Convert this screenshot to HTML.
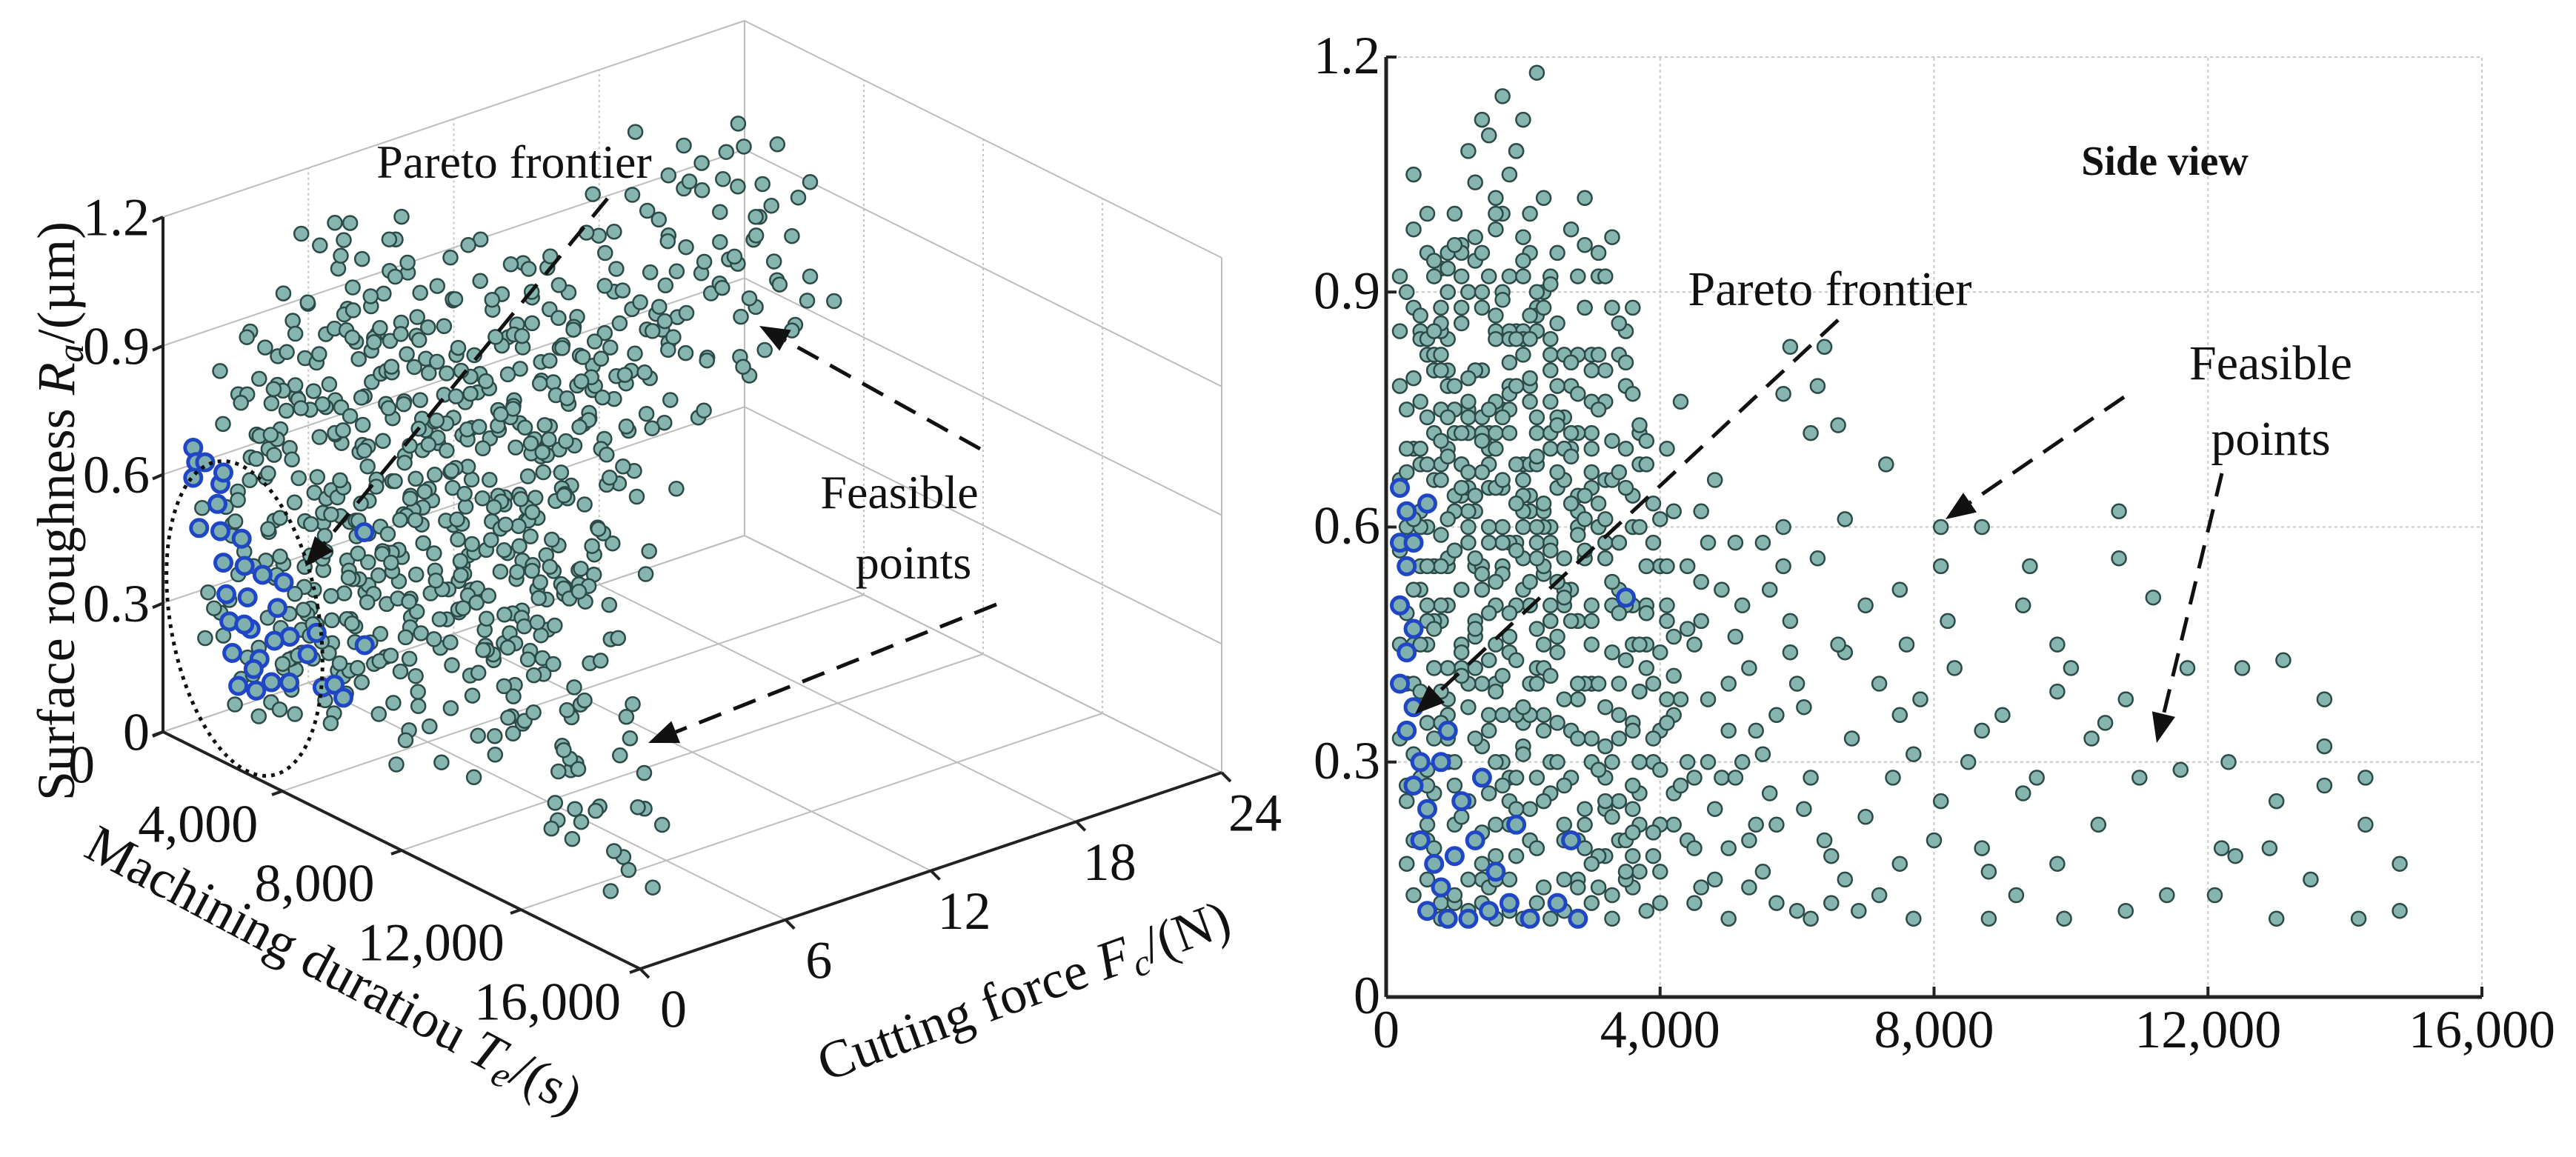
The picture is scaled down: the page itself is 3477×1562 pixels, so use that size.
<!DOCTYPE html>
<html><head><meta charset="utf-8"><title>Pareto frontier</title>
<style>html,body{margin:0;padding:0;background:#fff}svg{display:block}text{font-family:"Liberation Serif",serif;fill:#111}</style>
</head><body>
<svg id="fig" width="3477" height="1562" viewBox="0 0 3477 1562" xmlns="http://www.w3.org/2000/svg">
<g id="grid3d"></g>
<g id="axes3d"></g>
<g id="pts3d"></g>
<g id="grid2d"></g>
<g id="pts2d"></g>
<g id="anno"></g>
</svg>
<script>
// Units: duration Te in hundreds of seconds, cutting force Fc in N, roughness Ra in hundredths of µm
const zTicks = [0, 0.3, 0.6, 0.9, 1.2];
const zTickLabels = ["0", "0.3", "0.6", "0.9", "1.2"];
const teTicks = [0, 4000, 8000, 12000, 16000];
const teTickLabels = ["0", "4,000", "8,000", "12,000", "16,000"];
const fcTicks = [0, 6, 12, 18, 24];
const fcTickLabels = ["0", "6", "12", "18", "24"];

const lowForcePoints = [[4,2,20],[6,3,35],[8,2,48],[10,4,62],[12,3,75],[14,5,88],[16,4,98],[18,6,105],[20,5,112],[22,3,118],
[5,6,28],[7,5,42],[9,7,55],[11,6,68],[13,7,80],[15,6,92],[17,8,100],[19,7,108],[21,6,95],[23,5,102],
[3,4,40],[5,1,52],[7,3,66],[9,2,78],[11,1,86],[13,2,94],[15,3,70],[17,1,60],[19,2,50],[21,4,40],
[24,3,30],[26,2,22],[28,4,15],[30,3,12],[32,5,18],[34,2,25],[36,4,35],[38,3,45],[40,5,55],
[25,6,65],[27,5,78],[29,7,88],[31,6,92],[33,8,97],[35,7,85],[37,6,72],[24,8,60],[26,7,50],[28,6,40],
[30,5,33],[32,4,28],[34,7,20],[36,6,14],[38,8,11],[40,7,16],[42,5,22],[44,6,30],
[6,7,15],[8,6,12],[10,8,18],[12,7,25],[14,8,32],[16,7,40],[18,8,46],[20,7,52],[22,8,58],
[4,5,70],[6,4,82],[8,5,93],[10,6,100],[12,5,108],[14,6,112],[16,3,102],[18,2,92],[20,3,82],[22,2,72],
[9,1,30],[11,2,42],[13,1,55],[15,2,65],[17,3,75],[19,4,85],[21,1,64],[23,2,54],[25,3,44],[27,1,34],
[29,2,24],[31,1,14],[33,3,10],[35,1,20],[37,2,30],[39,1,40],[41,3,50],
[3,7,55],[5,8,68],[7,8,80],[9,8,90],[11,8,96],[13,8,104],[15,8,110],[17,5,115],[19,5,108],[21,7,100],
[14,2,15],[16,5,22],[18,3,28],[20,6,35],[22,4,42],[24,5,48],[26,4,56],[28,5,62],[30,7,70],[32,6,76],[34,4,82],[36,5,88],
[23,7,90],[25,4,95],[27,8,98],[29,5,102],[31,4,95],[33,6,88],[35,5,78],[37,8,68],[39,6,58],[41,4,48],[43,7,38],
[8,4,10],[10,2,12],[12,4,11],[16,1,10],[18,5,11],[20,2,10],[22,6,12],[24,1,10],[26,5,11],[28,2,10],
[5,3,60],[7,6,72],[9,4,84],[11,3,64],[13,5,46],[15,4,36],[17,6,30],[19,3,18],[21,5,24],[23,3,36],
[12,6,90],[14,3,80],[16,6,85],[18,4,78],[20,4,68],[22,6,88],[24,2,84],[26,6,74],[28,3,92],[30,2,82]];

const highForcePoints = [[3,16,60],[5,18,70],[7,20,80],[9,22,90],[11,24,95],[4,21,98],[6,23,100],[8,19,88],[10,17,75],[12,15,65],
[14,16,55],[16,18,65],[18,20,75],[20,22,85],[22,24,90],[24,23,80],[26,21,70],[28,19,60],[30,17,50],
[3,24,70],[5,22,62],[7,20,55],[9,18,50],[11,16,45],[13,14,42],[15,22,60],[17,24,55],[19,23,68],[21,21,78],
[4,19,105],[6,17,95],[8,15,85],[10,14,78],[12,13,72],[14,20,95],[16,22,100],[18,24,85],[20,18,92],[22,16,85],
[24,14,76],[26,18,82],[28,22,72],[30,24,65],[32,20,58],[34,16,52],[36,14,45],[2,22,85],[2,18,78],[2,14,66],
[5,15,55],[7,13,48],[9,24,80],[11,22,72],[13,19,62],[15,17,68],[17,15,58],[19,13,50],[21,24,62],[23,22,55],
[6,20,68],[8,22,75],[10,20,62],[12,18,58],[14,22,72],[16,14,50],[18,16,44],[20,20,56],[4,14,52],[6,16,48]];

const midForcePoints = [[3,9,75],[5,10,85],[7,11,92],[9,12,95],[11,13,88],[13,12,80],[15,11,72],[17,10,65],[19,9,58],[21,10,50],
[23,11,42],[25,12,35],[27,13,28],[29,12,22],[31,11,18],[33,10,13],[35,9,15],[37,12,22],[39,13,30],[41,11,38],
[4,13,45],[6,12,38],[8,11,30],[10,10,22],[12,9,15],[14,10,12],[16,11,18],[18,12,25],[20,13,32],[22,12,40],
[24,9,48],[26,10,56],[28,11,64],[30,9,72],[32,10,66],[34,11,58],[36,12,50],[38,10,42],[40,9,34],[42,12,26],
[44,13,20],[46,10,14],[48,9,24],[50,11,34],[6,14,60],[8,13,68],[10,14,72],[12,11,60],[14,13,52],[16,9,45],
[18,14,58],[20,11,66],[22,9,74],[24,13,82],[26,14,70],[28,9,48],[30,13,40],[32,14,32],[34,8,25],[36,13,18],
[5,12,20],[7,9,26],[9,10,38],[11,11,52],[13,10,64],[15,13,70],[17,12,36],[19,11,28],[21,12,20],[23,13,14]];

const coreDensePoints = [[6,1,22],[9,2,36],[13,3,48],[17,1,58],[21,2,68],[25,3,78],[29,1,88],[33,2,30],[37,3,16],[8,3,66],[12,1,74],[16,2,84],[20,3,94],[24,1,26],[28,2,38],[32,3,56],[36,1,64],[40,2,12],
[5,4,30],[9,5,42],[13,4,56],[17,5,66],[21,4,76],[25,5,86],[29,4,96],[33,5,44],[37,4,26],[7,5,80],[11,4,92],[15,5,14],[19,4,24],[23,5,34],[27,4,52],[31,5,60],[35,4,70],[39,5,18],
[6,6,45],[10,7,57],[14,6,67],[18,7,77],[22,6,87],[26,7,20],[30,6,30],[34,7,40],[38,6,50],[8,7,35],[12,6,25],[16,7,15],[20,6,62],[24,7,72],[28,6,82],[32,7,92],[36,6,60],[42,7,46],
[4,8,40],[8,9,50],[12,8,62],[16,9,72],[20,8,84],[24,9,92],[28,8,14],[32,9,24],[36,8,34],[40,9,44],[6,9,20],[10,8,30],[14,9,40],[18,8,22],[22,9,56],[26,8,66],[30,9,76],[34,8,86],
[5,10,60],[9,11,70],[13,10,80],[17,11,90],[21,10,20],[25,11,30],[29,10,40],[33,11,50],[37,10,60],[7,11,42],[11,10,52],[15,11,26],[19,10,36],[23,11,62],[27,10,72],[31,11,82],[35,10,16],[45,11,28],
[6,12,50],[10,13,62],[14,12,74],[18,13,84],[22,12,28],[26,13,38],[30,12,48],[34,13,58],[38,12,68],[8,13,80],[12,12,40],[16,13,30],[20,12,60],[24,13,70],[28,12,20],[32,13,80],[36,12,24],[42,13,36],
[5,14,70],[9,15,56],[13,14,64],[17,15,74],[21,14,36],[25,15,46],[29,14,56],[33,15,66],[37,14,30],[7,15,82],[11,14,44],[15,15,34],[19,14,84],[23,15,60],[27,14,70],[31,15,40],[35,14,50],[40,15,22],
[6,16,74],[10,17,64],[14,16,54],[18,17,44],[22,16,60],[26,17,70],[30,16,80],[34,17,36],[8,17,86],[12,16,90],[16,17,76],[20,16,66],[24,17,50],[28,16,40],[32,17,56],
[5,18,84],[9,19,74],[13,20,64],[17,18,54],[21,19,84],[25,20,74],[29,18,64],[7,20,94],[11,18,68],[15,19,58],[19,20,78],[23,18,88],[27,19,48],[3,19,90],[31,20,60],
[4,21,88],[8,22,82],[12,23,76],[16,21,70],[20,22,64],[24,23,58],[6,24,84],[10,21,96],[14,22,90],[18,23,72],[22,24,68],[26,21,52],[2,23,92],[5,24,76],
[42,3,62],[44,5,55],[46,2,48],[48,6,66],[50,4,40],[52,3,30],[54,7,22],[56,2,52],[58,5,60],[41,8,70],[43,6,76],[47,4,58],[49,2,28],[51,6,46],[53,4,20],[57,3,36],[59,8,44],[61,2,24],[63,5,56],[65,3,18]];

const bodyFillPoints = [[4,3,13],[7,4,19],[10,5,27],[13,6,33],[16,3,39],[19,8,43],[22,5,47],[25,9,53],[28,4,59],[31,10,63],
[34,6,67],[37,11,73],[3,12,17],[6,2,29],[9,13,33],[12,7,37],[15,14,43],[18,9,49],[21,15,53],[24,4,57],
[27,16,63],[30,8,67],[33,17,71],[36,3,77],[39,10,21],[5,18,45],[8,11,55],[11,19,65],[14,5,71],[17,20,41],
[20,7,31],[23,12,25],[26,6,15],[29,13,19],[32,3,37],[35,14,43],[38,7,49],[41,5,55],[4,10,79],[7,14,85],
[10,3,57],[13,16,47],[16,8,53],[19,2,63],[22,18,69],[25,10,73],[28,1,77],[31,12,29],[34,2,33],[37,15,39],
[3,6,49],[6,17,55],[9,6,61],[12,19,67],[15,9,75],[18,1,81],[21,11,87],[24,6,91],[27,13,81],[30,4,17],
[33,16,23],[36,9,27],[39,3,33],[42,10,41],[44,4,47],[46,8,53],[8,16,39],[11,7,23],[14,11,17],[17,4,27],
[20,14,37],[23,2,45],[26,12,51],[29,6,57],[32,11,61],[35,3,65],[38,13,71],[5,7,87],[9,9,93],[13,11,97],
[17,13,89],[21,3,79],[25,15,67],[29,9,61],[33,4,53],[37,12,45],[41,6,35],[43,2,27],[45,9,19],[3,15,27],
[7,1,33],[11,15,41],[15,1,49],[19,12,57],[23,8,63],[27,2,69],[31,14,75],[35,8,81],[39,4,63],[6,5,11],
[10,9,13],[14,4,21],[18,10,15],[22,1,19],[26,9,27],[30,1,45],[34,9,49],[38,2,55],[40,11,61],[4,16,61],
[8,8,71],[12,2,79],[16,10,87],[20,1,97],[24,11,41],[28,7,33],[32,1,25],[36,10,21],[40,3,29],[2,4,33],
[2,6,45],[2,8,57],[3,10,67],[3,2,25],[4,12,31],[5,6,39],[6,10,27],[7,2,47],[8,12,59],[9,6,69]];

const longDurationPoints = [[107,4,62],[107,3,56],[112,5,51],[94,6,55],[93,4,50],[87,7,60],[81,8,60],[81,6,55],[131,3,43],[137,2,38],
[125,4,42],[143,2,28],[143,3,22],[148,1,17],[148,2,11],[142,1,10],[130,3,10],[135,2,15],[129,4,19],[122,3,19],
[116,5,29],[114,2,13],[121,2,13],[108,3,11],[99,4,10],[92,5,13],[88,6,10],[77,7,10],[104,4,22],[98,5,17],
[98,3,45],[98,6,39],[103,4,33],[110,3,28],[123,2,30],[130,1,25],[137,3,32],[87,5,34],[81,7,25],[87,3,19],
[75,8,17],[70,9,23],[73,10,68],[66,11,73],[62,9,72],[64,12,83],[59,10,83],[63,8,78],[58,11,77],[67,7,61],
[75,6,52],[67,9,44],[61,8,37],[55,10,31],[75,5,36],[82,4,48],[77,9,31],[67,6,15],[60,7,11],[50,9,19],
[55,6,16],[88,2,16],[93,3,26],[108,2,38],[117,3,42],[124,2,18],[137,1,27],
[45,8,45],[47,6,38],[49,9,52],[51,7,28],[53,5,42],[55,8,58],[57,6,22],[59,4,48],[46,10,62],[48,3,15],
[52,11,50],[54,4,34],[56,9,26],[58,7,55],[60,5,40],[62,6,28],[64,4,20],[66,8,45],[68,5,33],[70,6,50],
[72,3,40],[74,7,28],[76,4,45],[78,6,38],[80,5,20],[83,3,42],[85,4,30],[90,3,36],[95,2,28],[100,3,42],[105,2,35],
[45,5,12],[50,4,10],[53,8,14],[57,3,12],[62,2,10],[65,5,12],[69,3,11],[72,8,13],[47,12,30],[51,3,58]];

const paretoPoints = [[2,1,65],[3,1,62],[2,1,58],[3,2,55],[2,2,50],[4,1,47],[3,2,44],[2,3,40],[4,2,37],[3,3,34],
[5,2,30],[4,3,27],[6,2,24],[5,3,20],[7,2,17],[8,3,14],[6,3,11],[9,2,10],[12,3,10],[15,2,11],
[18,3,12],[21,4,10],[10,4,18],[13,3,20],[16,4,16],[19,4,22],[11,2,25],[14,3,28],[8,4,30],[9,3,34],
[6,1,63],[4,2,58],[35,4,51],[27,5,20],[25,4,12],[28,4,10]];

const NS = "http://www.w3.org/2000/svg";
function mk(parent, tag, attrs, text) {
  const el = document.createElementNS(NS, tag);
  for (const k in attrs) el.setAttribute(k, attrs[k]);
  if (text !== undefined) el.textContent = text;
  parent.appendChild(el);
  return el;
}
function proj(te, fc, ra) {
  return [220 + te / 16000 * 644 + fc / 24 * 785, 988 + te / 16000 * 320 - fc / 24 * 265 - ra / 1.2 * 695];
}
function sx(te) { return 1871 + te / 16000 * 1479; }
function sy(ra) { return 1346 - ra / 1.2 * 1269; }

const g3 = document.getElementById('grid3d');
const a3 = document.getElementById('axes3d');
const p3 = document.getElementById('pts3d');
const g2 = document.getElementById('grid2d');
const p2 = document.getElementById('pts2d');
const an = document.getElementById('anno');

function seg(parent, p, q, style, name) {
  const l = mk(parent, 'line', {x1: p[0], y1: p[1], x2: q[0], y2: q[1]});
  for (const k in style) l.setAttribute(k, style[k]);
  
  
  return l;
}
const gridStyle = {stroke: '#bdbdbd', 'stroke-width': 2};
const gridDot = {stroke: '#c4c4c4', 'stroke-width': 2, 'stroke-dasharray': '3 4'};
fcTicks.forEach(f => seg(g3, proj(0, f, 0), proj(0, f, 1.2), f === 0 ? gridStyle : gridDot, 'grid-line'));
zTicks.forEach(z => seg(g3, proj(0, 0, z), proj(0, 24, z), gridStyle, 'grid-line'));
teTicks.forEach(t => seg(g3, proj(t, 24, 0), proj(t, 24, 1.2), t === 0 || t === 16000 ? gridStyle : gridDot, 'grid-line'));
zTicks.forEach(z => seg(g3, proj(0, 24, z), proj(16000, 24, z), gridStyle, 'grid-line'));
teTicks.forEach(t => seg(g3, proj(t, 0, 0), proj(t, 24, 0), gridStyle, 'grid-line'));
fcTicks.forEach(f => seg(g3, proj(0, f, 0), proj(16000, f, 0), gridStyle, 'grid-line'));

const axStyle = {stroke: '#222', 'stroke-width': 4};
seg(a3, proj(0, 0, 0), proj(0, 0, 1.2), axStyle, 'z-axis-line');
seg(a3, proj(0, 0, 0), proj(16000, 0, 0), axStyle, 'te-axis-line');
seg(a3, proj(16000, 0, 0), proj(16000, 24, 0), axStyle, 'fc-axis-line');
zTicks.forEach((z, i) => {
  const p = proj(0, 0, z);
  seg(a3, p, [p[0] - 14, p[1] + 6], axStyle, 'z-tick');
  const t = mk(a3, 'text', {x: p[0] - 18, y: p[1] + 8, 'font-size': 72, 'text-anchor': 'end', 'dominant-baseline': 'middle'}, zTickLabels[i]);
  
  
});
teTicks.forEach((v, i) => {
  const p = proj(v, 0, 0);
  seg(a3, p, [p[0] - 14, p[1] + 5], axStyle, 'te-tick');
  const t = mk(a3, 'text', {x: p[0] - 110 - v / 16000 * 15, y: p[1] + 52, 'font-size': 72, 'text-anchor': 'middle', 'dominant-baseline': 'middle'}, teTickLabels[i]);
  
  
});
fcTicks.forEach((v, i) => {
  const p = proj(16000, v, 0);
  seg(a3, p, [p[0] + 12, p[1] + 12], axStyle, 'fc-tick');
  const t = mk(a3, 'text', {x: p[0] + 45, y: p[1] + 62, 'font-size': 72, 'text-anchor': 'middle', 'dominant-baseline': 'middle'}, fcTickLabels[i]);
  
  
});

const sGrid = {stroke: '#c8c8c8', 'stroke-width': 2, 'stroke-dasharray': '4 4'};
teTicks.forEach((v, i) => {
  if (v > 0) seg(g2, [sx(v), sy(0)], [sx(v), sy(1.2)], sGrid, 'side-grid-x');
  seg(g2, [sx(v), sy(0)], [sx(v), sy(0) - 14], {stroke: '#222', 'stroke-width': 4}, 'side-x-tick');
  const t = mk(g2, 'text', {x: sx(v), y: sy(0) + 68, 'font-size': 72, 'text-anchor': 'middle'}, teTickLabels[i]);
  
  
});
zTicks.forEach((z, i) => {
  if (z > 0) seg(g2, [sx(0), sy(z)], [sx(16000), sy(z)], sGrid, 'side-grid-y');
  seg(g2, [sx(0), sy(z)], [sx(0) + 14, sy(z)], {stroke: '#222', 'stroke-width': 4}, 'side-y-tick');
  const t = mk(g2, 'text', {x: sx(0) - 8, y: sy(z) + 22, 'font-size': 72, 'text-anchor': 'end'}, zTickLabels[i]);
  
  
});
seg(g2, [sx(0), sy(0)], [sx(16000), sy(0)], {stroke: '#222', 'stroke-width': 5}, 'side-x-axis');
seg(g2, [sx(0), sy(0)], [sx(0), sy(1.2)], {stroke: '#222', 'stroke-width': 5}, 'side-y-axis');

const feasibleGroups = [lowForcePoints, midForcePoints, highForcePoints, coreDensePoints, bodyFillPoints, longDurationPoints];
function dot(parent, x, y, pareto) {
  return mk(parent, 'circle', {cx: x.toFixed(1), cy: y.toFixed(1), r: pareto ? 11 : 9.5,
    fill: pareto ? '#7fb0ad' : '#86b5b0', stroke: pareto ? '#1f46c4' : '#2c4a47', 'stroke-width': pareto ? 5 : 2.5});
}
const all3 = [];
feasibleGroups.forEach(g => g.forEach(p => all3.push(p)));
all3.slice().sort((a, b) => (a[0] * 100 / 16000 - a[1] / 24 * 100) - (b[0] * 100 / 16000 - b[1] / 24 * 100)).forEach(p => {
  const q = proj(p[0] * 100, p[1], p[2] / 100);
  const c = dot(p3, q[0], q[1], false);
  
  
});
paretoPoints.forEach(p => {
  const q = proj(p[0] * 100, p[1], p[2] / 100);
  const c = dot(p3, q[0], q[1], true);
  
  
});
all3.forEach(p => {
  const c = dot(p2, sx(p[0] * 100), sy(p[2] / 100), false);
  
  
});
paretoPoints.forEach(p => {
  const c = dot(p2, sx(p[0] * 100), sy(p[2] / 100), true);
  
  
});

function txt(x, y, s, size, extra, name) {
  const t = mk(an, 'text', Object.assign({x: x, y: y, 'font-size': size, 'text-anchor': 'middle'}, extra || {}), s);
  
  
  return t;
}
function arrow(x1, y1, x2, y2, name) {
  const dx = x2 - x1, dy = y2 - y1, L = Math.hypot(dx, dy), ux = dx / L, uy = dy / L;
  const bx = x2 - ux * 40, by = y2 - uy * 40;
  const l = mk(an, 'line', {x1: x1, y1: y1, x2: bx, y2: by, stroke: '#111', 'stroke-width': 5, 'stroke-dasharray': '32 18'});
  
  
  const h = mk(an, 'polygon', {points: `${x2},${y2} ${bx - uy * 16},${by + ux * 16} ${bx + uy * 16},${by - ux * 16}`, fill: '#111'});
  
  
}
txt(694, 240, 'Pareto frontier', 64, {}, 'pareto-label-3d');
txt(1214, 686, 'Feasible', 64, {}, 'feasible-label-3d');
txt(1233, 781, 'points', 64, {}, 'feasible-label-3d-2');
arrow(820, 268, 412, 765, 'pareto-arrow-3d');
arrow(1323, 606, 1025, 440, 'feasible-arrow-3d-top');
arrow(1345, 816, 875, 1003, 'feasible-arrow-3d-bottom');
const el = mk(an, 'ellipse', {cx: 330, cy: 835, rx: 100, ry: 215, transform: 'rotate(-10 330 835)', fill: 'none', stroke: '#111', 'stroke-width': 5, 'stroke-dasharray': '5 7'});



txt(2922, 236, 'Side view', 56, {'font-weight': 'bold'}, 'side-view-title');
txt(2470, 412, 'Pareto frontier', 66, {}, 'pareto-label-side');
txt(3065, 512, 'Feasible', 66, {}, 'feasible-label-side');
txt(3065, 614, 'points', 66, {}, 'feasible-label-side-2');
arrow(2481, 432, 1910, 964, 'pareto-arrow-side');
arrow(2867, 536, 2626, 701, 'feasible-arrow-side-1');
arrow(2999, 639, 2911, 1003, 'feasible-arrow-side-2');

const zt = txt(0, 0, '', 72, {transform: 'translate(100,690) rotate(-90)'}, 'z-axis-title');
zt.innerHTML = 'Surface roughness <tspan font-style="italic">R</tspan><tspan font-style="italic" font-size="50" dy="12">a</tspan><tspan dy="-12">/(µm)</tspan>';
const tt = txt(0, 0, '', 72, {transform: 'translate(440,1330) rotate(28)'}, 'te-axis-title');
tt.innerHTML = 'Machining duratiou <tspan font-style="italic">T</tspan><tspan font-style="italic" font-size="50" dy="12">e</tspan><tspan dy="-12">/(s)</tspan>';
const ft = txt(0, 0, '', 72, {transform: 'translate(1390,1360) rotate(-20)'}, 'fc-axis-title');
ft.innerHTML = 'Cutting force <tspan font-style="italic">F</tspan><tspan font-style="italic" font-size="50" dy="12">c</tspan><tspan dy="-12">/(N)</tspan>';
</script>
</body></html>
